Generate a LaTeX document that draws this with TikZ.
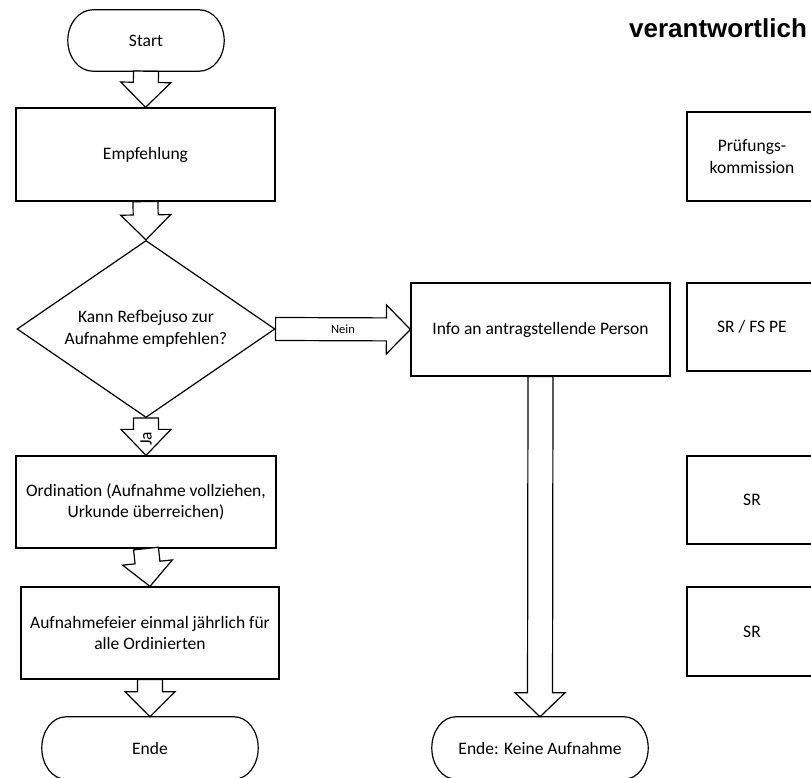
\documentclass[tikz,border=0pt]{standalone}
\usepackage{fontspec}
\setmainfont{Carlito}
\newfontfamily\headfont{Liberation Sans}
\usetikzlibrary{calc,shapes.geometric}

\tikzset{
  outline/.style={draw=black, line width=1.2pt},
  txt/.style={font=\fontsize{17.5}{21.5}\selectfont, align=center, inner sep=0pt},
  box/.style={outline, txt, rectangle, minimum width=259pt, minimum height=93pt},
  rolebox/.style={outline, txt, rectangle, minimum width=130pt, minimum height=88pt},
  term/.style={txt, rectangle, minimum width=216pt, minimum height=62pt},
  decision/.style={outline, txt, diamond, aspect=1.47, minimum width=258pt, minimum height=177pt},
  smalllabel/.style={font=\fontsize{12.5}{15}\selectfont, inner sep=0pt},
  fatarrow/.style={outline, fill=white, line join=miter},
}

% terminator outline: straight top and bottom, elliptic ends of width #2
\newcommand\termoutline[2]{%
  \draw[outline] let \p1=(#1.north west), \p2=(#1.south east), \n1={(\y1-\y2)/2} in
    (\x1+#2,\y1) -- (\x2-#2,\y1)
    arc[start angle=90, end angle=-90, x radius=#2, y radius=\n1]
    -- (\x1+#2,\y2)
    arc[start angle=270, end angle=90, x radius=#2, y radius=\n1] -- cycle;}

% block arrow from #1 to #2: shaft half width #3, head half width #4, head length #5
\newcommand\fatarrow[5]{%
  \path (#1) coordinate (fa-s) (#2) coordinate (fa-e);
  \path ($(fa-e)!#5!(fa-s)$) coordinate (fa-c);
  \draw[fatarrow]
    ($(fa-s)!#3!90:(fa-e)$) -- ($(fa-c)!#3!90:(fa-e)$) -- ($(fa-c)!#4!90:(fa-e)$)
    -- (fa-e)
    -- ($(fa-c)!#4!-90:(fa-e)$) -- ($(fa-c)!#3!-90:(fa-e)$) -- ($(fa-s)!#3!-90:(fa-e)$) -- cycle;}

\begin{document}
\begin{tikzpicture}[x=1pt,y=1pt]
\useasboundingbox[fill=white] (0,0) rectangle (811,778);

% main flow
\node[term, minimum width=156pt, minimum height=61pt] (start) at (146,737.5) {Start};
\node[box] (empf) at (145.5,623.5) {Empfehlung};
\node[decision] (dec) at (146,449) {Kann Refbejuso zur\\Aufnahme empfehlen?};
\node[box, minimum width=260pt, minimum height=92pt] (ord) at (146,276) {Ordination (Aufnahme vollziehen,\\Urkunde überreichen)};
\node[box, minimum width=258pt, minimum height=92pt] (auf) at (150,145) {Aufnahmefeier einmal jährlich für\\alle Ordinierten};
\node[term] (ende) at (150,30) {Ende};

% rejection branch
\node[box] (info) at (540.5,448.5) {Info an antragstellende Person};
\node[term] (ende2) at (540,30) {Ende: Keine Aufnahme};

\termoutline{start}{25pt}
\termoutline{ende}{24pt}
\termoutline{ende2}{24pt}

% responsibility column
\node[font=\headfont\bfseries\fontsize{26}{30}\selectfont, anchor=base west, inner sep=0pt] (head) at (629,740) {verantwortlich};
\node[rolebox, minimum height=89pt] (r1) at (752,621.5) {Prüfungs-\\kommission};
\node[rolebox] (r2) at (752,451) {SR / FS PE};
\node[rolebox] (r3) at (752,278) {SR};
\node[rolebox, minimum height=89pt] (r4) at (752,146.5) {SR};

% connectors
\fatarrow{start.south}{empf.north}{12.5pt}{25pt}{25pt}
\fatarrow{empf.south}{dec.north}{12.5pt}{25pt}{25pt}
\fatarrow{dec.south}{ord.north}{12.5pt}{25pt}{26pt}
\fatarrow{ord.south}{auf.north}{12.5pt}{25pt}{24pt}
\fatarrow{auf.south}{ende.north}{12.5pt}{25pt}{25pt}
\fatarrow{info.south}{ende2.north}{12.5pt}{25pt}{24pt}
\fatarrow{dec.east}{info.west}{11.5pt}{24.5pt}{24pt}

\path (dec.east) -- (info.west) node[smalllabel, midway] (nein) {Nein};
\node[txt, rotate=90] (ja) at (146,339) {Ja};
\end{tikzpicture}
\end{document}
